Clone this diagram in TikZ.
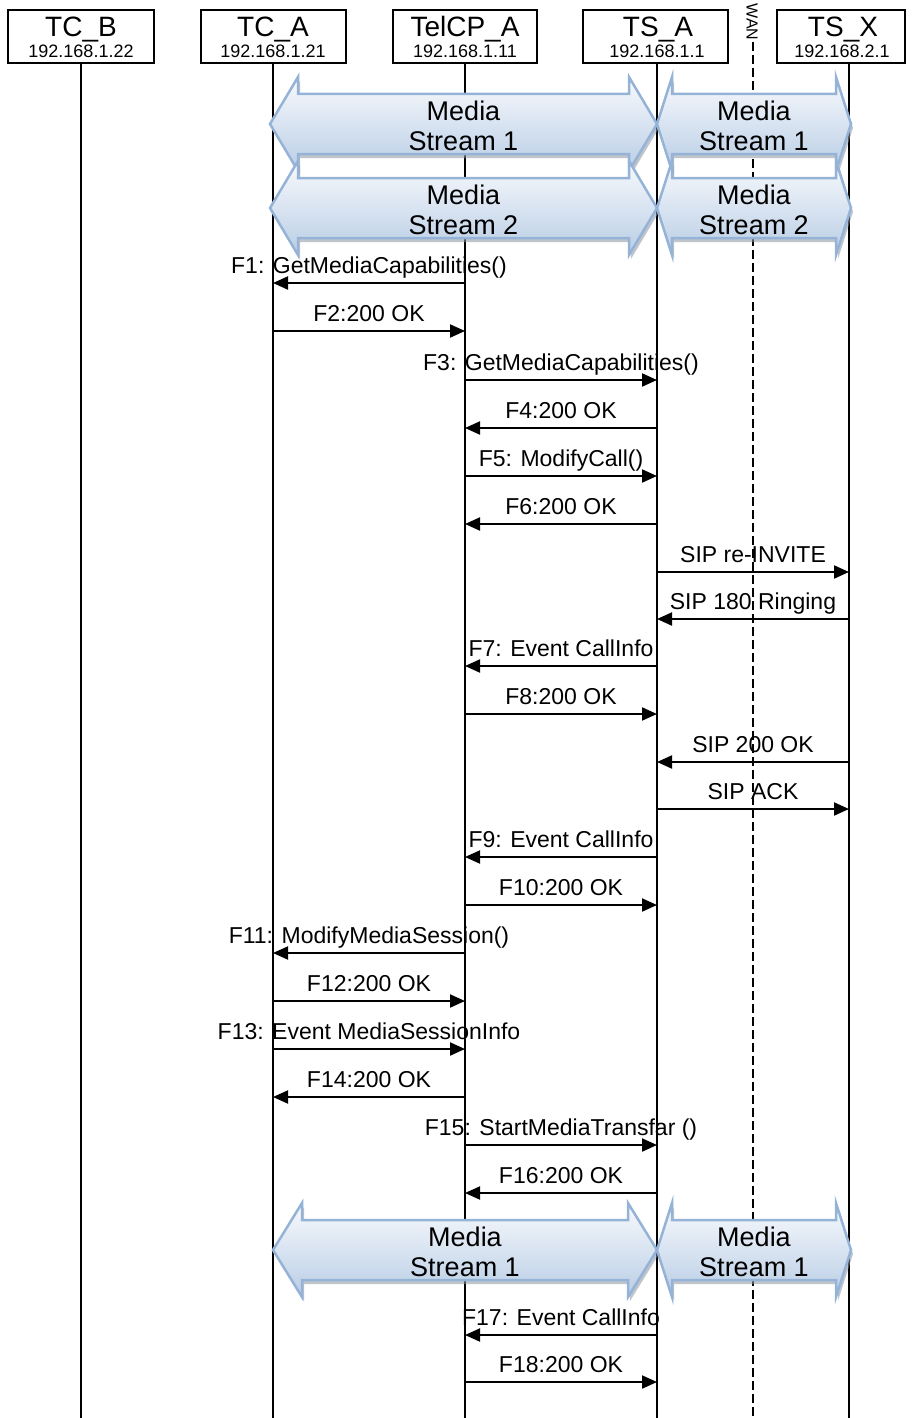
\documentclass[tikz,border=0pt]{standalone}
\usepackage{fontspec}
\setmainfont{Liberation Sans}
\usetikzlibrary{arrows.meta}
\definecolor{mborder}{RGB}{149,179,215}
\definecolor{mtop}{RGB}{248,250,253}
\definecolor{mbot}{RGB}{185,205,229}
\definecolor{mshadow}{RGB}{140,148,160}
\tikzset{
  hbox/.style={draw=black, line width=2pt, inner sep=0pt, minimum height=53pt},
  hname/.style={font=\fontsize{28}{28}\selectfont, inner sep=0pt},
  hip/.style={font=\fontsize{18}{18}\selectfont, inner sep=0pt},
  life/.style={line width=1.5pt, black},
  wanline/.style={line width=1.5pt, black, dash pattern=on 9pt off 4pt},
  msgline/.style={line width=2pt, black, -{Triangle[length=15pt, width=13pt]}},
  msglabel/.style={font=\fontsize{23}{23}\selectfont, inner sep=0pt},
  mtext/.style={font=\fontsize{27}{30}\selectfont, align=center, inner sep=0pt},
  mfill/.style={draw=mborder, line width=2.5pt, top color=mtop, bottom color=mbot},
  mshade/.style={fill=mshadow, opacity=0.55}
}
% #1 xl, #2 xr, #3 yc, #4 head length, #5 name, #6 text
\newcommand\mstream[6]{%
  \fill[mshade, shift={(2,4)}] (#1,#3) -- ({#1+#4},{#3-47}) -- ({#1+#4},{#3-30}) -- ({#2-#4},{#3-30}) -- ({#2-#4},{#3-47}) -- (#2,#3) -- ({#2-#4},{#3+47}) -- ({#2-#4},{#3+30}) -- ({#1+#4},{#3+30}) -- ({#1+#4},{#3+47}) -- cycle;
  \path[mfill] (#1,#3) -- ({#1+#4},{#3-47}) -- ({#1+#4},{#3-30}) -- ({#2-#4},{#3-30}) -- ({#2-#4},{#3-47}) -- (#2,#3) -- ({#2-#4},{#3+47}) -- ({#2-#4},{#3+30}) -- ({#1+#4},{#3+30}) -- ({#1+#4},{#3+47}) -- cycle;
  \node[mtext] (#5) at ({(#1+#2)/2},{#3+2}) {#6};
}
% #1 name, #2 y, #3 x from, #4 x to, #5 label
\newcommand\msg[5]{%
  \coordinate (#1s) at (#3,#2);
  \coordinate (#1t) at (#4,#2);
  \draw[msgline] (#1s) -- coordinate (#1m) (#1t);
  \node[msglabel, anchor=base] (#1l) at ([yshift=10pt]#1m) {#5};
}
\begin{document}
\begin{tikzpicture}[x=1pt, y=-1pt]
\useasboundingbox (0,0) rectangle (911,1418);
% header boxes
\node[hbox, minimum width=146pt] (tcb) at (81,36.5) {};
\node[hbox, minimum width=145pt] (tca) at (273,36.5) {};
\node[hbox, minimum width=144pt] (tcp) at (465,36.5) {};
\node[hbox, minimum width=145pt] (tsa) at (655.5,36.5) {};
\node[hbox, minimum width=128pt] (tsx) at (841,36.5) {};
\node[hname, anchor=base] (tcbn) at (81,37) {TC\_B};
\node[hip, anchor=base] (tcbi) at (81,58) {192.168.1.22};
\node[hname, anchor=base] (tcan) at (273,37) {TC\_A};
\node[hip, anchor=base] (tcai) at (273,58) {192.168.1.21};
\node[hname, anchor=base] (tcpn) at (465,37) {TelCP\_A};
\node[hip, anchor=base] (tcpi) at (465,58) {192.168.1.11};
\node[hname, anchor=base] (tsan) at (658,37) {TS\_A};
\node[hip, anchor=base] (tsai) at (657,58) {192.168.1.1};
\node[hname, anchor=base] (tsxn) at (843,37) {TS\_X};
\node[hip, anchor=base] (tsxi) at (842,58) {192.168.2.1};
% lifelines
\coordinate (tcbbot) at (81,1418);
\coordinate (tcabot) at (273,1418);
\coordinate (tcpbot) at (465,1418);
\coordinate (tsabot) at (657,1418);
\coordinate (tsxbot) at (849,1418);
\draw[life] (tcbbot |- tcb.south) -- (tcbbot);
\draw[life] (tcabot |- tca.south) -- (tcabot);
\draw[life] (tcpbot |- tcp.south) -- (tcpbot);
\draw[life] (tsabot |- tsa.south) -- (tsabot);
\draw[life] (tsxbot |- tsx.south) -- (tsxbot);
% WAN
\node[font=\fontsize{16}{16}\selectfont, rotate=-90, inner sep=0pt] (wan) at (752,22) {WAN};
\coordinate (wantop) at (753,42);
\coordinate (wanbot) at (753,1418);
\draw[wanline] (wantop) -- (wanbot);
% media streams
\mstream{270}{657}{124}{28}{ms1a}{Media\\Stream 1}
\mstream{657}{851}{124}{15}{ms1b}{Media\\Stream 1}
\mstream{270}{657}{208}{28}{ms2a}{Media\\Stream 2}
\mstream{657}{851}{208}{15}{ms2b}{Media\\Stream 2}
\mstream{273}{657}{1250}{29}{ms3a}{Media\\Stream 1}
\mstream{657}{851}{1250}{15}{ms3b}{Media\\Stream 1}
% messages
\msg{f1}{283}{465}{273}{F1: GetMediaCapabilities()}
\msg{f2}{331}{273}{465}{F2:200 OK}
\msg{f3}{380}{465}{657}{F3: GetMediaCapabilities()}
\msg{f4}{428}{657}{465}{F4:200 OK}
\msg{f5}{476}{465}{657}{F5: ModifyCall()}
\msg{f6}{524}{657}{465}{F6:200 OK}
\msg{s1}{572}{657}{849}{SIP re-INVITE}
\msg{s2}{619}{849}{657}{SIP 180 Ringing}
\msg{f7}{666}{657}{465}{F7: Event CallInfo}
\msg{f8}{714}{465}{657}{F8:200 OK}
\msg{s3}{762}{849}{657}{SIP 200 OK}
\msg{s4}{809}{657}{849}{SIP ACK}
\msg{f9}{857}{657}{465}{F9: Event CallInfo}
\msg{f10}{905}{465}{657}{F10:200 OK}
\msg{f11}{953}{465}{273}{F11: ModifyMediaSession()}
\msg{f12}{1001}{273}{465}{F12:200 OK}
\msg{f13}{1049}{273}{465}{F13: Event MediaSessionInfo}
\msg{f14}{1097}{465}{273}{F14:200 OK}
\msg{f15}{1145}{465}{657}{F15: StartMediaTransfar ()}
\msg{f16}{1193}{657}{465}{F16:200 OK}
\msg{f17}{1335}{657}{465}{F17: Event CallInfo}
\msg{f18}{1382}{465}{657}{F18:200 OK}
\end{tikzpicture}
\end{document}
